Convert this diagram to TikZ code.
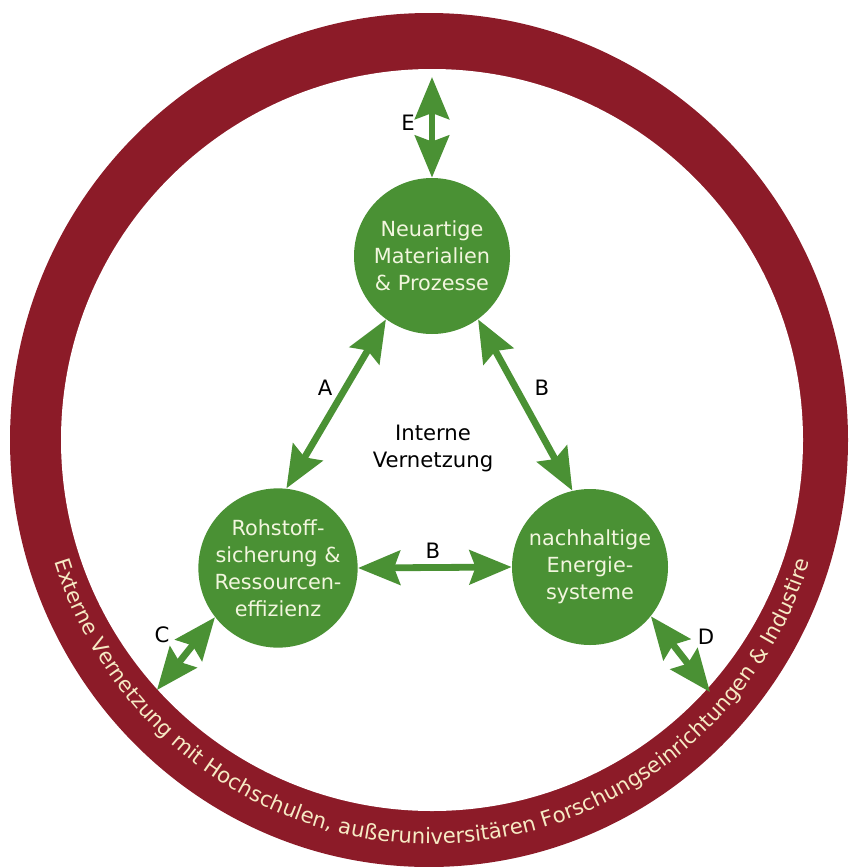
\documentclass[tikz,border=0pt]{standalone}
\usepackage{fontspec}
\setmainfont{DejaVu Sans}
\usetikzlibrary{arrows.meta,decorations.text}
\definecolor{hubgreen}{RGB}{74,145,52}
\definecolor{ringred}{RGB}{140,27,40}
\definecolor{hubtext}{RGB}{242,246,222}
\definecolor{ringtext}{RGB}{246,234,196}

\begin{document}
\begin{tikzpicture}[x=0.5pt, y=0.5pt,
  hub/.style={circle, fill=hubgreen, text=hubtext, minimum size=78pt, inner sep=0pt, align=center, font=\fontsize{10.4}{13.5}\selectfont},
  lbl/.style={font=\fontsize{10.6}{13.5}\selectfont, text=black, inner sep=0pt},
  link/.style={draw=hubgreen, line width=3.4pt, >={Stealth[length=21pt,width=17pt,inset=3pt]}, <->}]
\fill[white] (0,0) rectangle (848,-867);
\fill[ringred] (429,-440) ellipse[x radius=419, y radius=427];
\fill[white] (432,-440) circle[radius=371];
\path[decorate, decoration={text along path, text color=ringtext, text align=center,
  text={|\fontsize{10.6}{12}\selectfont|Externe Vernetzung mit Hochschulen, außeruniversitären Forschungseinrichtungen {\&} Industire}}]
  (432,-440) ++(180:396 and 404) arc[start angle=180, end angle=360, x radius=396, y radius=404];

\node[hub] (mat) at (432,-256) {Neuartige\\Materialien\\\& Prozesse};
\node[hub] (roh) at (278,-568) {Rohstoff-\\sicherung \&\\Ressourcen-\\effizienz};
\node[hub] (en) at (590,-567) {nachhaltige\\Energie-\\systeme};

\node[lbl, align=center] (intern) at (433,-448) {Interne\\Vernetzung};
\node[lbl] (la) at (325,-388) {A};
\node[lbl] (lb1) at (542,-388) {B};
\node[lbl] (lb2) at (433,-551) {B};
\node[lbl] (lc) at (162,-635) {C};
\node[lbl] (ld) at (706,-637) {D};
\node[lbl] (le) at (408,-123) {E};

\coordinate (exte) at (432,-77);
\coordinate (extc) at (157,-690);
\coordinate (extd) at (710,-692);

\draw[link] (mat.234) -- (roh.84);
\draw[link] (mat.306) -- (en.103);
\draw[link] (roh.east) -- (en.west);
\draw[link] (exte) -- (mat.north);
\draw[link] (roh.218) -- (extc);
\draw[link] (en.321) -- (extd);
\end{tikzpicture}
\end{document}
